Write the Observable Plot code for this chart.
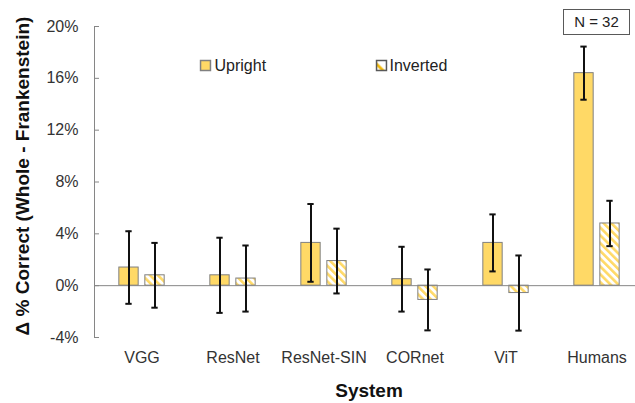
<!DOCTYPE html>
<html>
<head>
<meta charset="utf-8">
<script src="https://cdn.jsdelivr.net/npm/d3@7"></script>
<script src="https://cdn.jsdelivr.net/npm/@observablehq/plot@0.6"></script>
<style>
  html, body { margin: 0; padding: 0; background: #fff; }
  #wrap { position: relative; width: 635px; height: 403px; font-family: "Liberation Sans", Arial, sans-serif; }
  #nbox { position: absolute; left: 563px; top: 9px; width: 65px; height: 24px; border: 1px solid #595959;
          font-size: 15px; color: #222; text-align: center; line-height: 24px; background: #fff; }
</style>
</head>
<body>
<div id="wrap"><div id="nbox">N = 32</div></div>
<script>
const systems = ["VGG", "ResNet", "ResNet-SIN", "CORnet", "ViT", "Humans"];
const upright = [1.4, 0.8, 3.3, 0.5, 3.3, 16.4];
const uprightErr = [2.8, 2.9, 3.0, 2.5, 2.2, 2.05];
const inverted = [0.8, 0.55, 1.9, -1.1, -0.57, 4.8];
const invertedErr = [2.5, 2.55, 2.5, 2.35, 2.9, 1.75];
const yTicks = [-4, 0, 4, 8, 12, 16, 20];
const seriesNames = ["Upright", "Inverted"];
const yTitle = "\u0394 % Correct (Whole - Frankenstein)";
const xTitle = "System";

const yellow = "#FFD966";
const outline = "#808080";

const rows = [];
systems.forEach((s, i) => {
  rows.push({system: s, series: "Upright", value: upright[i], lo: upright[i] - uprightErr[i], hi: upright[i] + uprightErr[i]});
  rows.push({system: s, series: "Inverted", value: inverted[i], lo: inverted[i] - invertedErr[i], hi: inverted[i] + invertedErr[i]});
});
const up = rows.filter(d => d.series === "Upright");
const inv = rows.filter(d => d.series === "Inverted");

const xRange = [94, 644];
const bw = (xRange[1] - xRange[0]) / systems.length;
const barInset = (bw - 20) / 2;
const capInset = (bw - 7) / 2;
const off = 13;

const chart = Plot.plot({
  width: 635,
  height: 403,
  marginLeft: 94,
  marginRight: 0,
  marginTop: 26,
  marginBottom: 66,
  style: {fontFamily: "Liberation Sans, Arial, sans-serif", color: "#333", background: "transparent"},
  x: {domain: systems, range: xRange, padding: 0, axis: null},
  y: {domain: [-4, 20], axis: null},
  marks: [
    Plot.frame({anchor: "left", stroke: "#868686"}),
    Plot.axisY({ticks: yTicks, tickFormat: d => d + "%", tickSize: -5, tickPadding: 21, fontSize: 16, stroke: "#868686", fill: "#333", label: null}),
    Plot.axisX({tickSize: 0, tickPadding: 14, fontSize: 16, fill: "#333", label: null}),
    Plot.barY(up, {x: "system", y: "value", dx: -off, insetLeft: barInset, insetRight: barInset, fill: yellow, stroke: outline, strokeWidth: 1}),
    Plot.barY(inv, {x: "system", y: "value", dx: off, insetLeft: barInset, insetRight: barInset, fill: "url(#hatch)", stroke: outline, strokeWidth: 1}),
    Plot.ruleY([0], {stroke: "#868686"}),
    Plot.ruleX(up, {x: "system", y1: "lo", y2: "hi", dx: -off, stroke: "#111", strokeWidth: 2}),
    Plot.ruleX(inv, {x: "system", y1: "lo", y2: "hi", dx: off, stroke: "#111", strokeWidth: 2}),
    Plot.tickY(up, {x: "system", y: "lo", dx: -off, insetLeft: capInset, insetRight: capInset, stroke: "#111", strokeWidth: 2}),
    Plot.tickY(up, {x: "system", y: "hi", dx: -off, insetLeft: capInset, insetRight: capInset, stroke: "#111", strokeWidth: 2}),
    Plot.tickY(inv, {x: "system", y: "lo", dx: off, insetLeft: capInset, insetRight: capInset, stroke: "#111", strokeWidth: 2}),
    Plot.tickY(inv, {x: "system", y: "hi", dx: off, insetLeft: capInset, insetRight: capInset, stroke: "#111", strokeWidth: 2}),
    // legend
    Plot.dot([seriesNames[0]], {frameAnchor: "top-left", dx: 111, dy: 39, symbol: "square", r: 5.6, fill: yellow, stroke: outline}),
    Plot.text([seriesNames[0]], {frameAnchor: "top-left", dx: 120, dy: 39, text: d => d, textAnchor: "start", lineAnchor: "middle", fontSize: 16, fill: "#222"}),
    Plot.dot([seriesNames[1]], {frameAnchor: "top-left", dx: 287, dy: 39, symbol: "square", r: 5.6, fill: "url(#hatchLegend)", stroke: "#595959"}),
    Plot.text([seriesNames[1]], {frameAnchor: "top-left", dx: 295, dy: 39, text: d => d, textAnchor: "start", lineAnchor: "middle", fontSize: 16, fill: "#222"}),
    // axis titles
    Plot.text([xTitle], {frameAnchor: "bottom", dx: 4, dy: 59, text: d => d, textAnchor: "middle", fontSize: 19, fontWeight: "bold", fill: "#111"}),
    Plot.text([yTitle], {frameAnchor: "left", dx: -72, dy: -6, rotate: -90, text: d => d, textAnchor: "middle", lineAnchor: "middle", fontSize: 19, fontWeight: "bold", fill: "#111"})
  ]
});

const svg = d3.select(chart);
const defs = svg.insert("defs", ":first-child");
const p = defs.append("pattern").attr("id", "hatch").attr("patternUnits", "userSpaceOnUse")
  .attr("width", 5.5).attr("height", 5.5).attr("patternTransform", "rotate(-45)");
p.append("rect").attr("width", 5.5).attr("height", 5.5).attr("fill", "#fff");
p.append("rect").attr("width", 2.6).attr("height", 5.5).attr("fill", yellow);
const p2 = defs.append("pattern").attr("id", "hatchLegend").attr("patternUnits", "objectBoundingBox")
  .attr("width", 1).attr("height", 1).attr("patternContentUnits", "objectBoundingBox");
p2.append("rect").attr("width", 1).attr("height", 1).attr("fill", "#fff");
p2.append("path").attr("d", "M0,0.15 L0,0.55 L0.45,1 L0.85,1 Z").attr("fill", "#F2B705");
p2.append("path").attr("d", "M0.15,0 L0.55,0 L1,0.45 L1,0.85 Z").attr("fill", "#fff");

document.getElementById("wrap").prepend(chart);
</script>
</body>
</html>
